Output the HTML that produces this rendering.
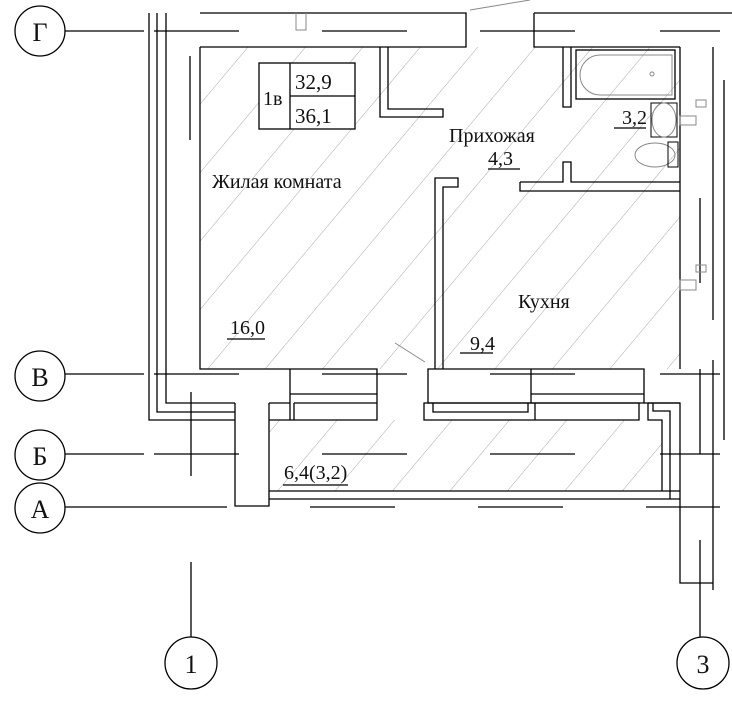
<!DOCTYPE html>
<html><head><meta charset="utf-8"><style>
html,body{margin:0;padding:0;background:#fff}
svg{display:block}
text{font-family:"Liberation Serif",serif;fill:#111}
</style></head><body>
<svg width="732" height="725" viewBox="0 0 732 725" xmlns="http://www.w3.org/2000/svg">
<defs>
<pattern id="h" patternUnits="userSpaceOnUse" width="44" height="44" patternTransform="rotate(40)">
<line x1="0" y1="0" x2="0" y2="44" stroke="#aaa" stroke-width="1"/>
</pattern>
<clipPath id="c">
<path d="M200,47 H680 V369 H200 Z M269,420 H662 V491 H269 Z"/>
</clipPath>
</defs>
<rect x="0" y="0" width="732" height="725" fill="#fff"/>
<g clip-path="url(#c)"><rect x="190" y="40" width="500" height="470" fill="url(#h)"/></g>

<g stroke="#000" stroke-width="1.3" fill="none">
<circle cx="40" cy="31" r="25"/><circle cx="40" cy="376" r="25"/><circle cx="40" cy="455" r="25"/><circle cx="40" cy="508" r="25"/>
<circle cx="191" cy="663" r="26"/><circle cx="703" cy="663" r="26"/>
<path d="M65,31 H144 M154,31 H239 M322,31 H407 M480,31 H575 M660,31 H720"/>
<path d="M65,374 H144 M154,374 H239 M322,374 H407 M490,374 H575 M660,374 H720"/>
<path d="M65,454 H144 M154,454 H239 M322,454 H407 M490,454 H575 M660,454 H720"/>
<path d="M65,507 H227 M310,507 H395 M478,507 H563 M646,507 H720"/>
<path d="M191,392 V476 M191,562 V637 M190,56 V140"/>
<path d="M700,540 V637 M700,369 V454 M700,198 V283"/>
<path d="M200,13 H466 V47 H200"/>
<path d="M534,13 H732 M534,13 V47 H680"/>
<path d="M149,13 V420 H235 M157,13 V412 H235 M166,13 V403 H235"/>
<path d="M200,47 V369 H290"/>
<path d="M380,47 V117 H443 V109 H388 V47"/>
<path d="M563,47 V107 H571 V47"/>
<path d="M520,182 H563 V162 H571 V182 H680 M520,182 V191 H680"/>
<path d="M435,369 V178 H458 V187 H443 V369"/>
<path d="M680,47 V369 M713,47 V320 M713,360 V590 M724,80 V440"/>
<path d="M290,369 H377 V420 H269 M290,369 V403 M290,394 H377 M269,403 H290 V420 M294,403 V420 M294,403 H377"/>
<path d="M235,403 V506 H269 V403"/>
<path d="M428,369 H644 V403 H428 Z M531,369 V403 M531,394 H644"/>
<path d="M424,403 H535 V420 H424 Z M433,403 V412 H528 V403 M535,403 H639 V420 H535 M644,403 H680"/>
<path d="M648,403 V420 H662 V491 M648,403 H680 V583 H713 M653,403 V411 H670 V499"/>
<path d="M269,491 H680 M269,499 H680"/>
<rect x="576" y="50" width="99" height="49"/>
</g>
<g stroke="#888" stroke-width="1" fill="none">
<path d="M600,55 H672 V95 H600 A20,20 0 0 1 600,55 Z"/>
<circle cx="652" cy="74" r="2"/>
<rect x="651" y="103" width="26" height="34" stroke="#000"/>
<ellipse cx="664" cy="120" rx="12" ry="17"/>
<ellipse cx="655" cy="155" rx="20" ry="12"/>
<rect x="668" y="142" width="10" height="25" stroke="#000"/>
<path d="M296,13 V30 H306 V13 M696,100 H706 V107 H696 Z M680,116 H696 V125 H680 Z M696,265 H706 V272 H696 Z M680,280 H696 V290 H680 Z"/>
<path d="M470,10 L530,0 M395,343 L425,362"/>
</g>

<g stroke="#000" stroke-width="1.3" fill="#fff">
<rect x="259" y="63" width="96" height="66"/>
</g>
<path d="M290,63 V129 M290,96 H355" stroke="#000" stroke-width="1.3"/>
<text x="263" y="105" font-size="20">1в</text>
<text x="295" y="89" font-size="21">32,9</text>
<text x="295" y="123" font-size="21">36,1</text>

<g font-size="20">
<text x="212" y="188">Жилая комната</text>
<text x="449" y="142">Прихожая</text>
<text x="488" y="165">4,3</text>
<text x="622" y="124">3,2</text>
<text x="518" y="308">Кухня</text>
<text x="230" y="334">16,0</text>
<text x="470" y="350">9,4</text>
<text x="284" y="479">6,4(3,2)</text>
</g>
<path d="M488,169 H520 M614,128 H646 M227,339 H265 M460,353 H493 M283,485 H348" stroke="#000" stroke-width="1.2"/>

<g font-size="26" text-anchor="middle">
<text x="40" y="41">Г</text>
<text x="40" y="386">В</text>
<text x="40" y="465">Б</text>
<text x="40" y="518">А</text>
<text x="191" y="673">1</text>
<text x="703" y="673">3</text>
</g>
</svg>
</body></html>
